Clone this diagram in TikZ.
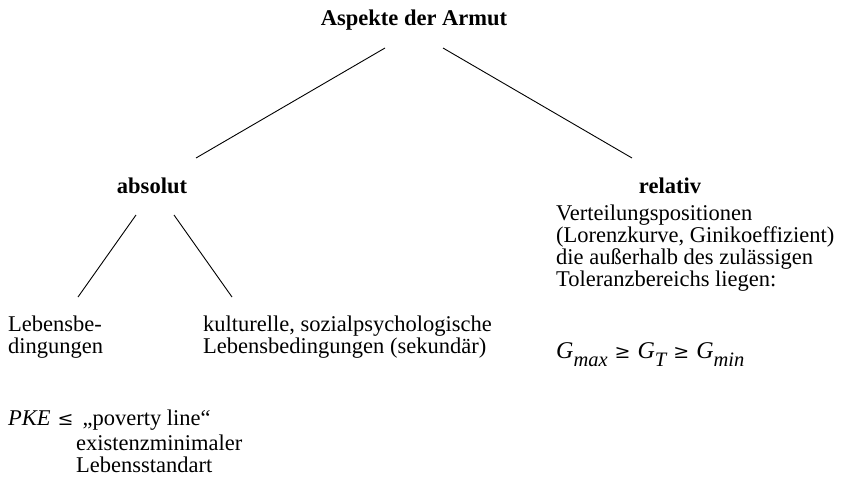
\documentclass[tikz,border=0pt]{standalone}
\usepackage{fontspec}
\setmainfont{Liberation Serif}
\newfontfamily\relfont{DejaVu Serif}
\usetikzlibrary{calc}
\newcommand{\gsub}[1]{\raisebox{-8pt}{\fontsize{20.5}{20.5}\selectfont\itshape #1}}
\newcommand{\bigrel}[1]{{\relfont\fontsize{19}{19}\selectfont #1}}
\newcommand{\gvar}{{\fontsize{24}{24}\selectfont\itshape G}}

\begin{document}
\begin{tikzpicture}[
    x=1pt, y=-1pt,
    heading/.style={inner sep=0pt, anchor=base,
                    font=\fontsize{22.5}{22}\selectfont\bfseries},
    textblock/.style={inner sep=0pt, anchor=base west, align=left,
                      font=\fontsize{22.5}{22}\selectfont},
    branch/.style={line width=0.9pt},
]
\useasboundingbox (0,0) rectangle (845,482);

% Tree heads
\node[heading] (armut)   at (414,25)  {Aspekte der Armut};
\node[heading] (absolut) at (152,193) {absolut};
\node[heading] (relativ) at (670,193) {relativ};

% Leaves (base = last line)
\node[textblock] (lebens) at (8,353)   {Lebensbe-\\dingungen};
\node[textblock] (kultur) at (203,353) {kulturelle, sozialpsychologische\\Lebensbedingungen (sekundär)};
\node[textblock] (vert)   at (556,286) {Verteilungspositionen\\(Lorenzkurve, Ginikoeffizient)\\die außerhalb des zulässigen\\Toleranzbereichs liegen:};
\node[textblock] (gini)   at (556,358) {\gvar\gsub{max}\hspace{7pt}\bigrel{≥}\hspace{7pt}\gvar\gsub{T}\hspace{7pt}\bigrel{≥}\hspace{7pt}\gvar\gsub{min}};
\node[textblock] (pke)    at (8,425)   {\textit{PKE}\hspace{7pt}\bigrel{≤}\hspace{9pt}„poverty line“};
\node[textblock] (exist)  at (76,472)  {existenzminimaler\\Lebensstandart};

% Branches
\draw[branch] ($(armut.base)+(-29,23)$) -- ($(absolut.base)+(44,-35)$);
\draw[branch] ($(armut.base)+(29,23)$)  -- ($(relativ.base)+(-38,-35)$);
\draw[branch] ($(absolut.base)+(-16,22)$) -- ($(lebens.base west)+(70,-56)$);
\draw[branch] ($(absolut.base)+(22,22)$)  -- ($(kultur.base west)+(29,-56)$);
\end{tikzpicture}
\end{document}
